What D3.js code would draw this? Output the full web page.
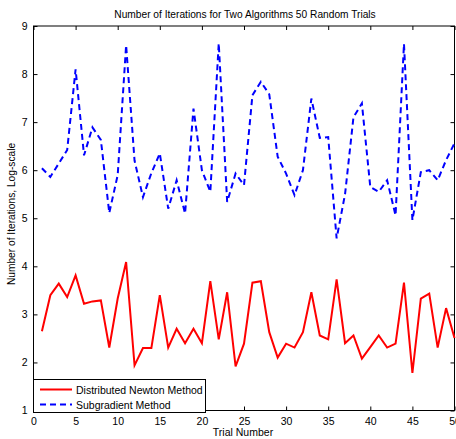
<!DOCTYPE html>
<html><head><meta charset="utf-8">
<script src="https://cdn.jsdelivr.net/npm/d3@7"></script>
<style>body{margin:0;background:#fff}svg{display:block}text{font-family:"Liberation Sans",Arial,sans-serif;}</style>
</head><body><svg id="c" width="456" height="439"></svg>
<script>
const trials = d3.range(1, 51);
const newton = [2.65,3.4,3.64,3.36,3.81,3.22,3.27,3.29,2.31,3.33,4.09,1.94,2.3,2.3,3.4,2.31,2.7,2.4,2.7,2.4,3.69,2.48,3.46,1.92,2.39,3.66,3.69,2.63,2.1,2.39,2.31,2.63,3.46,2.56,2.48,3.73,2.4,2.56,2.08,2.32,2.56,2.31,2.39,3.66,1.78,3.33,3.43,2.31,3.13,2.51];
const subgrad = [6.04,5.86,6.14,6.42,8.1,6.31,6.89,6.63,5.11,5.9,8.6,6.2,5.44,5.94,6.35,5.2,5.79,5.1,7.28,6.0,5.55,8.64,5.34,5.93,5.69,7.56,7.84,7.58,6.28,5.93,5.48,6.0,7.49,6.67,6.69,4.58,5.5,7.1,7.39,5.65,5.55,5.79,5.06,8.63,4.96,5.96,6.0,5.79,6.21,6.56];
const xTicks = [0,5,10,15,20,25,30,35,40,45,50];
const yTicks = [1,2,3,4,5,6,7,8,9];
const title = "Number of Iterations for Two Algorithms 50 Random Trials";
const xLabel = "Trial Number";
const yLabel = "Number of Iterations, Log-scale";
const legendLabels = ["Distributed Newton Method", "Subgradient Method"];

const svg = d3.select("#c");
const L = 33.5, R = 454.5, T = 26, B = 410.5;
const x = d3.scaleLinear().domain([0, 50]).range([L, R]);
const y = d3.scaleLinear().domain([1, 9]).range([B, T]);

const fs = 10.2;
const ff = '"Liberation Sans",Arial,sans-serif';
const gB = svg.append("g").attr("transform", `translate(0,${B})`)
  .call(d3.axisBottom(x).tickValues(xTicks).tickSizeInner(-4).tickSizeOuter(0).tickPadding(7));
const gT = svg.append("g").attr("transform", `translate(0,${T})`)
  .call(d3.axisTop(x).tickValues(xTicks).tickSizeInner(-4).tickSizeOuter(0).tickFormat(""));
const gL = svg.append("g").attr("transform", `translate(${L},0)`)
  .call(d3.axisLeft(y).tickValues(yTicks).tickSizeInner(-4).tickSizeOuter(0).tickPadding(6));
const gR = svg.append("g").attr("transform", `translate(${R},0)`)
  .call(d3.axisRight(y).tickValues(yTicks).tickSizeInner(-4).tickSizeOuter(0).tickFormat(""));
[gB, gT, gL, gR].forEach(g => {
  g.selectAll(".domain").remove();
  g.selectAll("line").attr("stroke", "#000");
  g.selectAll("text").attr("font-size", 10.5).attr("fill", "#000").attr("font-family", ff);
});
svg.append("rect").attr("x", L).attr("y", T).attr("width", R - L).attr("height", B - T)
  .attr("fill", "none").attr("stroke", "#000").attr("stroke-width", 1);

const line = d3.line().x((d, i) => x(trials[i])).y(d => y(d));
svg.append("path").datum(subgrad).attr("d", line).attr("fill", "none")
  .attr("stroke", "#0000ff").attr("stroke-width", 2).attr("stroke-dasharray", "6,4");
svg.append("path").datum(newton).attr("d", line).attr("fill", "none")
  .attr("stroke", "#ff0000").attr("stroke-width", 2);

svg.append("text").attr("x", 245).attr("y", 18).attr("text-anchor", "middle")
  .attr("font-size", fs).text(title);
svg.append("text").attr("x", 243).attr("y", 436).attr("text-anchor", "middle")
  .attr("font-size", 10.5).text(xLabel);
svg.append("text").attr("transform", "translate(15,214) rotate(-90)").attr("text-anchor", "middle")
  .attr("font-size", fs).text(yLabel);

const lg = svg.append("g");
lg.append("rect").attr("x", 33.5).attr("y", 379.5).attr("width", 172).attr("height", 33)
  .attr("fill", "#fff").attr("stroke", "#000").attr("stroke-width", 1);
const lc = ["#ff0000", "#0000ff"], ld = [null, "6,4"], ly = [389.5, 404.5];
legendLabels.forEach((t, i) => {
  lg.append("line").attr("x1", 40).attr("x2", 72).attr("y1", ly[i]).attr("y2", ly[i])
    .attr("stroke", lc[i]).attr("stroke-width", 2).attr("stroke-dasharray", ld[i]);
  lg.append("text").attr("x", 76).attr("y", ly[i] + 4).attr("font-size", 10.5).text(t);
});
</script></body></html>
